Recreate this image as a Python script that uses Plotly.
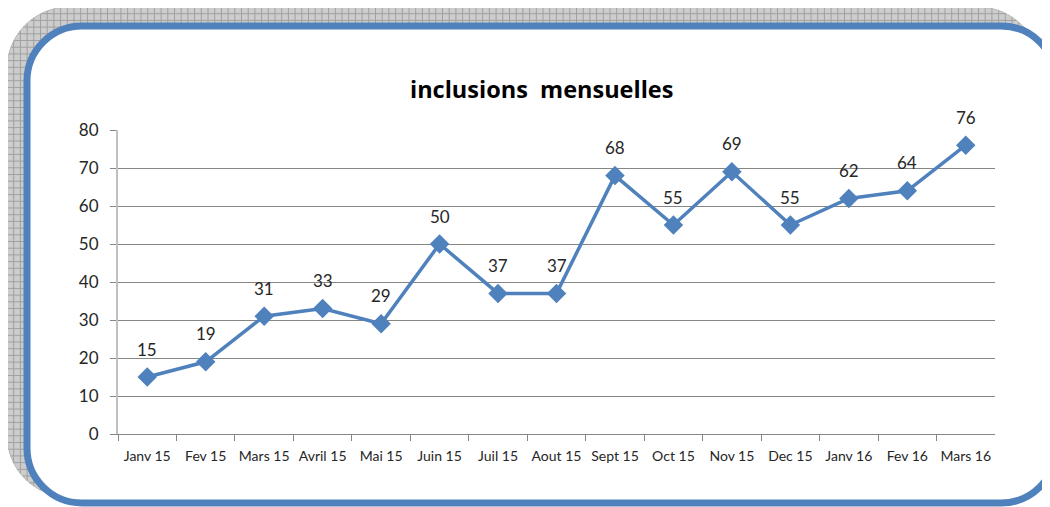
import math
import plotly.graph_objects as go

# ---------------- data ----------------
months = ["Janv 15", "Fev 15", "Mars 15", "Avril 15", "Mai 15", "Juin 15", "Juil 15",
          "Aout 15", "Sept 15", "Oct 15", "Nov 15", "Dec 15", "Janv 16", "Fev 16", "Mars 16"]
inclusions = [15, 19, 31, 33, 29, 50, 37, 37, 68, 55, 69, 55, 62, 64, 76]
y_ticks = [0, 10, 20, 30, 40, 50, 60, 70, 80]
title_text = "inclusions  mensuelles"

# ---------------- geometry helpers (decoration only) ----------------
OFF = 8                      # page body margin
W, H = 1050 - OFF, 507 - OFF  # figure size so that page fits the window
BLUE = "#4f81bd"
FONT = "Lato"


def fx(x):
    return (x - OFF) / W


def fy(y):
    return 1 - (y - OFF) / H


def P(x, y):
    return f"{fx(x):.5f},{fy(y):.5f}"


def rounded_path(x0, y0, x1, y1, r):
    k = 0.5523 * r
    s = f"M{P(x0 + r, y0)} L{P(x1 - r, y0)} "
    s += f"C{P(x1 - r + k, y0)} {P(x1, y0 + r - k)} {P(x1, y0 + r)} "
    s += f"L{P(x1, y1 - r)} "
    s += f"C{P(x1, y1 - r + k)} {P(x1 - r + k, y1)} {P(x1 - r, y1)} "
    s += f"L{P(x0 + r, y1)} "
    s += f"C{P(x0 + r - k, y1)} {P(x0, y1 - r + k)} {P(x0, y1 - r)} "
    s += f"L{P(x0, y0 + r)} "
    s += f"C{P(x0, y0 + r - k)} {P(x0 + r - k, y0)} {P(x0 + r, y0)} Z"
    return s


def inset(v, lo, hi, r):
    if v < lo + r:
        d = lo + r - v
    elif v > hi - r:
        d = v - (hi - r)
    else:
        return 0.0
    d = min(d, r)
    return r - math.sqrt(max(r * r - d * d, 0))


def hatch_path(x0, y0, x1, y1, r, step):
    parts = []
    x = x0 + step
    while x < x1:
        h = inset(x, x0, x1, r)
        parts.append(f"M{P(x, y0 + h)} L{P(x, y1 - h)}")
        x += step
    y = y0 + step
    while y < y1:
        h = inset(y, y0, y1, r)
        parts.append(f"M{P(x0 + h, y)} L{P(x1 - h, y)}")
        y += step
    return " ".join(parts)


gx0, gy0, gx1, gy1, gr = 7, 7, 1040, 497, 62
shapes = [
    dict(type="path", xref="paper", yref="paper", layer="below",
         path=rounded_path(gx0, gy0, gx1, gy1, gr),
         fillcolor="#cdcdcd", line=dict(color="#b8b8b8", width=1)),
    dict(type="path", xref="paper", yref="paper", layer="below",
         path=hatch_path(gx0, gy0, gx1, gy1, gr, 6.7),
         line=dict(color="#a0a0a0", width=1)),
    dict(type="path", xref="paper", yref="paper", layer="below",
         path=rounded_path(27, 26, 1056, 503, 55),
         fillcolor="white", line=dict(color=BLUE, width=7)),
]

# ---------------- chart ----------------
fig = go.Figure()
fig.add_trace(go.Scatter(
    x=months, y=inclusions, mode="lines+markers",
    line=dict(color=BLUE, width=3.5),
    marker=dict(symbol="diamond", size=15, color=BLUE),
    hoverinfo="skip", cliponaxis=False,
))

annotations = [
    dict(x=m, y=v, xref="x", yref="y", text=str(v), showarrow=False,
         yshift=28, font=dict(family=FONT, size=17, color="#262626"))
    for m, v in zip(months, inclusions)
]
annotations.append(dict(
    text=f"<b>{title_text}</b>", xref="paper", yref="paper",
    x=fx(541), y=fy(89), xanchor="center", yanchor="middle",
    showarrow=False, font=dict(family="Open Sans", size=23.5, color="#000000")))

fig.update_layout(
    width=W, height=H,
    margin=dict(l=0, r=0, t=0, b=0, autoexpand=False),
    paper_bgcolor="white", plot_bgcolor="rgba(0,0,0,0)",
    showlegend=False,
    shapes=shapes,
    annotations=annotations,
    xaxis=dict(
        domain=[fx(118), fx(995)],
        type="category", categoryorder="array", categoryarray=months,
        range=[-0.5, len(months) - 0.5], tickson="boundaries", tickangle=0,
        ticks="outside", ticklen=6, tickcolor="#868686", tickwidth=1,
        ticklabelstandoff=9,
        showline=True, linecolor="#868686", linewidth=1,
        showgrid=False, zeroline=False, automargin=False,
        tickfont=dict(family=FONT, size=14, color="#262626"),
        fixedrange=True,
    ),
    yaxis=dict(
        domain=[fy(434), fy(130)],
        range=[0, 80], tickvals=y_ticks,
        ticks="outside", ticklen=6, tickcolor="#868686", tickwidth=1,
        ticklabelstandoff=8,
        showline=True, linecolor="#c0c0c0", linewidth=2,
        showgrid=True, gridcolor="#868686", gridwidth=1,
        zeroline=False, automargin=False,
        tickfont=dict(family=FONT, size=17, color="#262626"),
        fixedrange=True,
    ),
)

fig.write_html("out.html")
